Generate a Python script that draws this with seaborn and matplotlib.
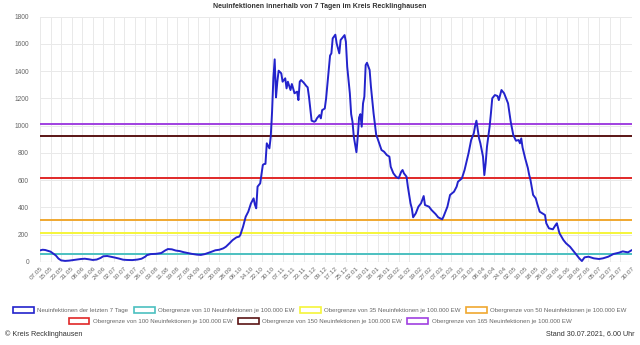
import matplotlib
matplotlib.use("Agg")
import matplotlib.pyplot as plt
from matplotlib.patches import Patch
import seaborn as sns
import pandas as pd

# ---- data ----
day = [0, 2, 4, 6, 8, 10, 12, 14, 16, 19, 22, 25, 28, 31, 34, 37, 40, 43, 46, 48,
       51, 54, 57, 60, 63, 66, 70, 74, 77, 80, 81, 84, 88, 92, 95, 97, 100, 103, 106, 109,
       111, 115, 119, 122, 125, 128, 130, 133, 136, 139, 141, 144, 146, 149, 151, 152, 154, 156, 158, 160,
       162, 163, 164, 165, 167, 169, 170, 171, 172, 174, 175, 176, 177, 178, 179, 180, 181, 183, 184, 186,
       187, 188, 190, 191, 192, 193, 195, 196, 197, 198, 200, 202, 203, 204, 205, 206, 208, 209, 210, 212,
       213, 214, 215, 216, 217, 219, 220, 221, 222, 224, 225, 227, 228, 229, 231, 232, 233, 235, 236, 237,
       238, 240, 241, 242, 243, 244, 245, 246, 247, 248, 250, 251, 253, 255, 256, 258, 259, 261, 263, 265,
       266, 268, 270, 272, 274, 275, 276, 278, 279, 281, 282, 283, 285, 287, 289, 291, 292, 295, 297, 300,
       302, 305, 306, 309, 311, 314, 316, 317, 320, 322, 325, 327, 329, 330, 331, 333, 334, 336, 337, 338,
       339, 341, 342, 343, 345, 347, 348, 350, 352, 354, 355, 357, 359, 361, 363, 364, 365, 366, 368, 370,
       371, 372, 374, 376, 377, 379, 381, 383, 384, 386, 389, 391, 392, 394, 397, 399, 402, 404, 407, 409,
       411, 413, 416, 420, 424, 427, 431, 435, 439, 442, 444, 446, 449]
cases = [85, 90, 88, 82, 76, 62, 48, 25, 12, 8, 10, 14, 18, 22, 24, 20, 15, 18, 30, 42,
         44, 38, 32, 25, 17, 15, 14, 18, 24, 40, 50, 58, 60, 66, 85, 95, 93, 84, 80, 72,
         68, 60, 54, 52, 58, 68, 75, 86, 90, 100, 112, 140, 160, 181, 186, 200, 259, 332, 370, 430,
         467, 420, 394, 553, 577, 712, 719, 720, 871, 834, 919, 1100, 1350, 1487, 1208, 1323, 1404, 1384, 1323, 1348,
         1274, 1323, 1262, 1306, 1274, 1238, 1250, 1188, 1323, 1335, 1316, 1291, 1282, 1213, 1127, 1037, 1029, 1035, 1054, 1078,
         1054, 1115, 1120, 1127, 1201, 1409, 1515, 1531, 1641, 1668, 1604, 1531, 1629, 1641, 1665, 1616, 1433, 1238, 1085, 1030,
         919, 805, 919, 1060, 1085, 993, 1164, 1213, 1445, 1462, 1409, 1286, 1091, 932, 907, 850, 822, 809, 785, 773,
         699, 651, 626, 614, 663, 675, 651, 626, 553, 431, 394, 328, 357, 406, 431, 484, 418, 406, 381, 352,
         328, 313, 332, 406, 492, 516, 553, 589, 614, 675, 797, 895, 944, 998, 1037, 907, 871, 773, 638, 724,
         846, 993, 1091, 1201, 1225, 1218, 1188, 1262, 1238, 1188, 1164, 1030, 930, 890, 895, 871, 907, 840, 760, 690,
         640, 602, 492, 467, 431, 369, 357, 345, 284, 247, 240, 271, 284, 211, 161, 137, 112, 88, 51, 27,
         7, 34, 39, 27, 22, 27, 39, 59, 68, 78, 74, 71, 88]

tick_labels = ["07.05", "15.05", "23.05", "31.05", "08.06", "16.06", "24.06", "02.07", "10.07", "18.07",
               "26.07", "03.08", "11.08", "19.08", "27.08", "04.09", "12.09", "20.09", "28.09", "06.10",
               "14.10", "22.10", "30.10", "07.11", "15.11", "23.11", "01.12", "09.12", "17.12", "25.12",
               "02.01", "10.01", "18.01", "26.01", "03.02", "11.02", "19.02", "27.02", "07.03", "15.03",
               "23.03", "31.03", "08.04", "16.04", "24.04", "02.05", "10.05", "18.05", "26.05", "03.06",
               "11.06", "19.06", "27.06", "05.07", "13.07", "21.07", "30.07"]
tick_days = [8 * i for i in range(56)] + [449]

series_label = "Neuinfektionen der letzten 7 Tage"
limit_rates = [10, 35, 50, 100, 150, 165]
limit_values = [61.4, 215, 307, 614, 921, 1013]
limit_labels = [f"Obergrenze von {r} Neuinfektionen je 100.000 EW" for r in limit_rates]

blue = "#2323cc"
limit_colors = ["#4bc0c0", "#f5f53a", "#f0a830", "#e02828", "#5a1414", "#a040e0"]

# ---- style ----
sns.set_theme(style="white")
plt.rcParams["font.family"] = ["Liberation Sans", "DejaVu Sans"]

fig = plt.figure(figsize=(6.4, 3.45), dpi=100)
ax = fig.add_axes([40 / 640, 1 - 262 / 345, 592 / 640, (262 - 16.7) / 345])

df = pd.DataFrame({"day": day, "cases": cases})
for v, c in zip(limit_values, limit_colors):
    ax.axhline(v, color=c, lw=1.4, zorder=2)
sns.lineplot(data=df, x="day", y="cases", ax=ax, color=blue, lw=1.4, zorder=3)

ax.set_xlim(0, 449)
ax.set_ylim(0, 1800)
ax.set_yticks(range(0, 1801, 200))
ax.set_xticks(tick_days)
ax.set_xticklabels(tick_labels, rotation=45, ha="right", rotation_mode="anchor")
ax.tick_params(axis="x", labelsize=4.6, labelcolor="#666666", length=0, pad=3)
ax.tick_params(axis="y", labelsize=4.8, labelcolor="#666666", length=0, pad=8)
ax.grid(True, color="#e9e9e9", lw=0.7, zorder=0)
for s in ax.spines.values():
    s.set_visible(False)
ax.axhline(0, color="#d0d0d0", lw=0.8, zorder=1)
ax.set_xlabel("")
ax.set_ylabel("")

fig.text(0.5, 1 - 6.5 / 345, "Neuinfektionen innerhalb von 7 Tagen im Kreis Recklinghausen",
         ha="center", va="center", fontsize=5.0, fontweight="bold", color="#333333")

def handle(c):
    return Patch(facecolor=(1, 1, 1, 0), edgecolor=c, lw=1.2)

h1 = [handle(blue)] + [handle(c) for c in limit_colors[:3]]
l1 = [series_label] + limit_labels[:3]
h2 = [handle(c) for c in limit_colors[3:]]
l2 = limit_labels[3:]
kw = dict(frameon=False, fontsize=4.4, handlelength=3.4, handleheight=1.0,
          handletextpad=0.55, columnspacing=0.9, borderaxespad=0, borderpad=0, labelcolor="#666666")
leg1 = fig.legend(h1, l1, loc="center", bbox_to_anchor=(0.5, 1 - 310 / 345), ncol=4, **kw)
leg2 = fig.legend(h2, l2, loc="center", bbox_to_anchor=(0.5, 1 - 321 / 345), ncol=3, **kw)

fig.text(5 / 640, 1 - 334 / 345, "© Kreis Recklinghausen", ha="left", va="center",
         fontsize=5.2, color="#333333")
fig.text(635 / 640, 1 - 334 / 345, "Stand 30.07.2021, 6.00 Uhr", ha="right", va="center",
         fontsize=5.2, color="#333333")

fig.savefig("out.png", dpi=100)
